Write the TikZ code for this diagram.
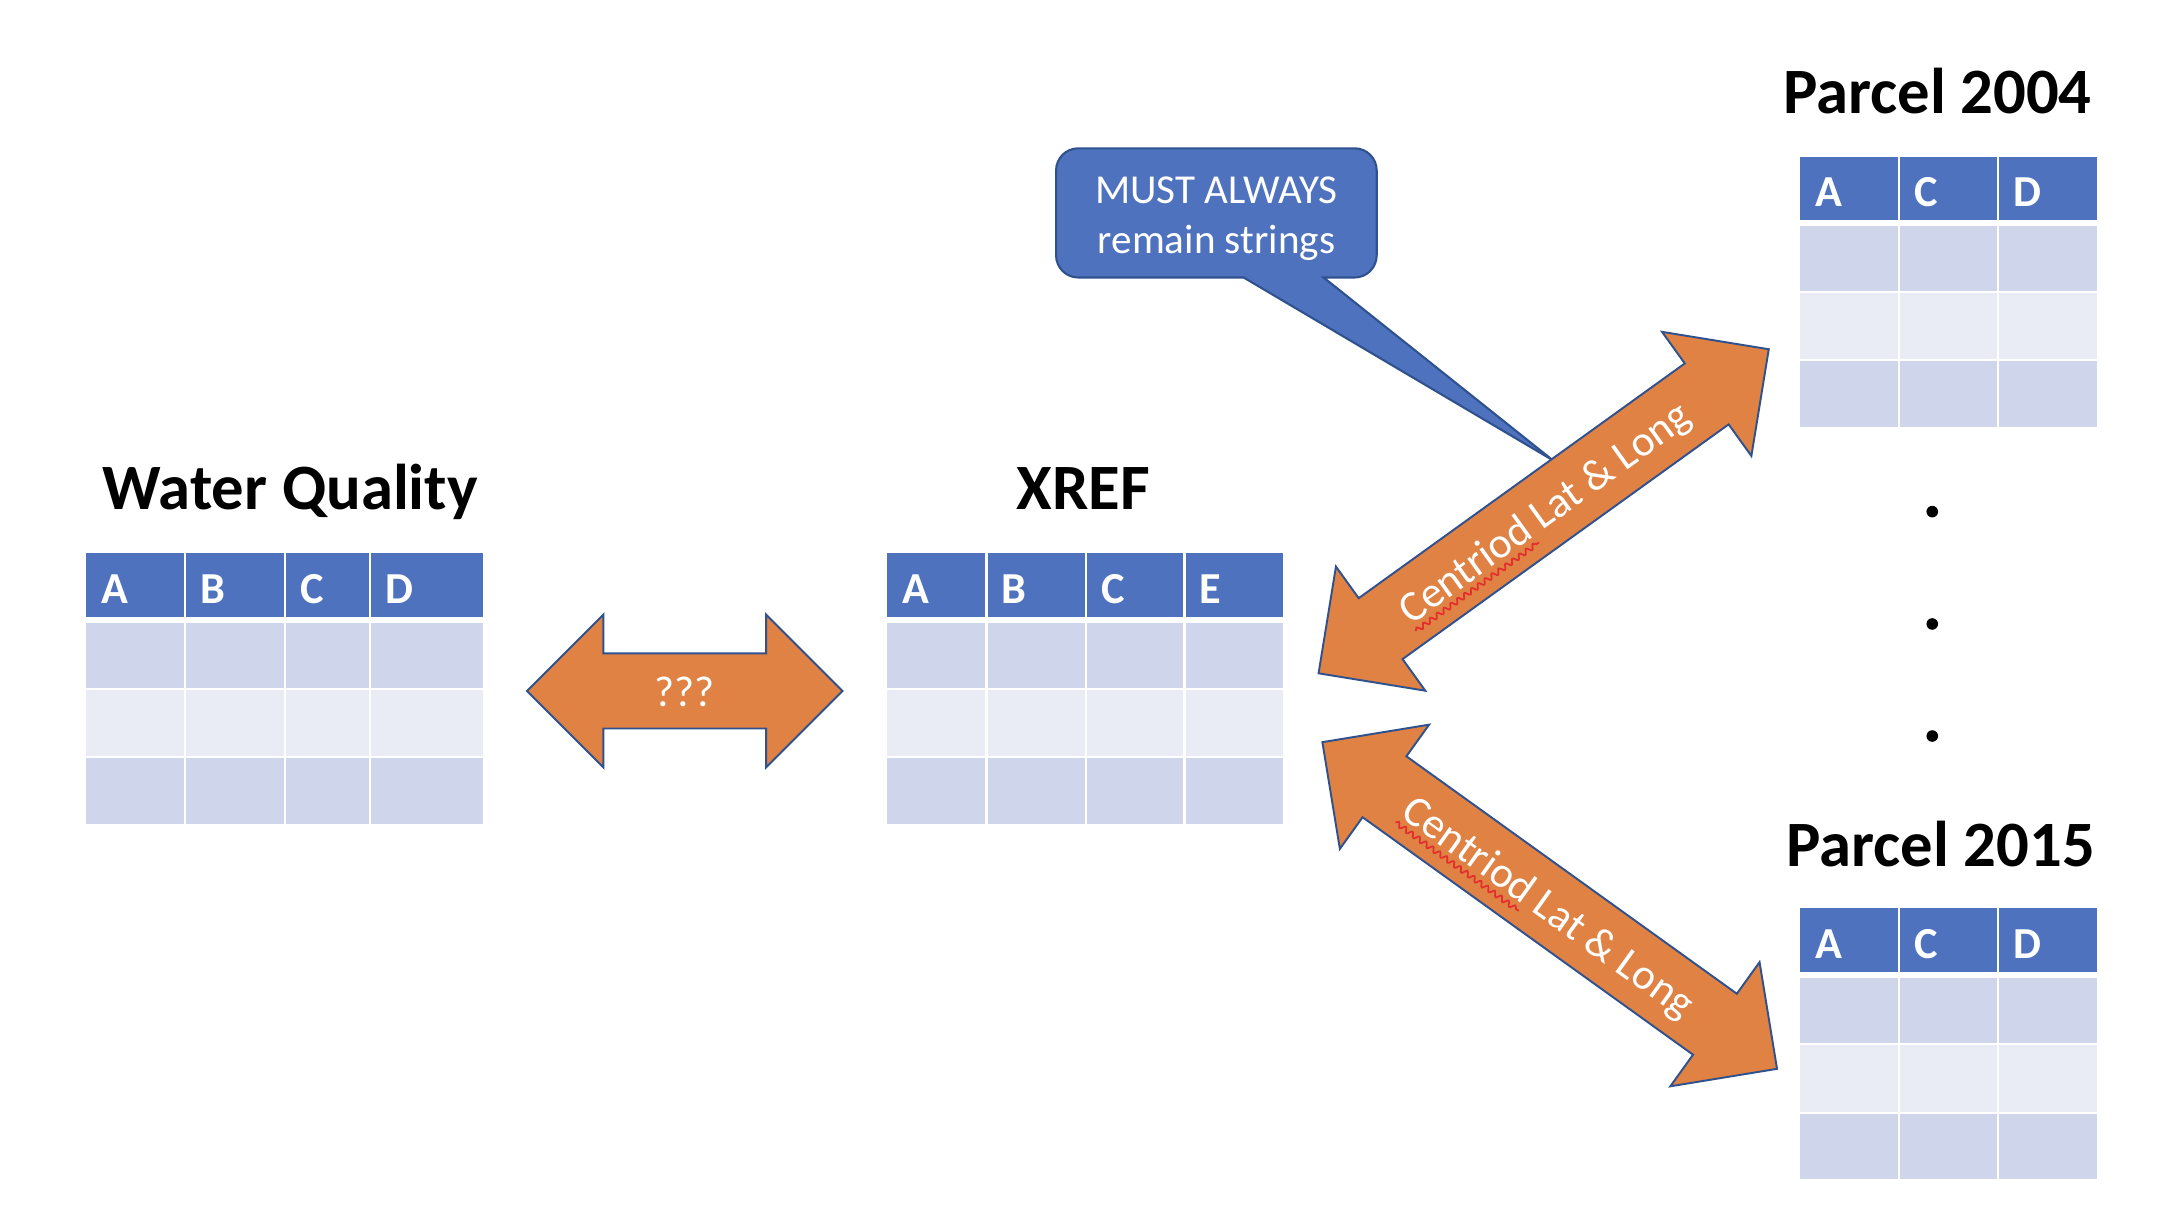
\documentclass[tikz,border=0pt]{standalone}
\usepackage{fontspec}
\setmainfont{Carlito}
\usetikzlibrary{decorations.pathmorphing}
\definecolor{hdrblue}{RGB}{79,114,190}
\definecolor{rowdark}{RGB}{207,213,234}
\definecolor{rowlight}{RGB}{233,235,245}
\definecolor{arrorange}{RGB}{223,130,68}
\definecolor{edgeblue}{RGB}{47,82,143}
\definecolor{squigred}{RGB}{228,45,45}
\newlength\ctxtW
\newlength\cwordW
\settowidth{\ctxtW}{\fontsize{12.3}{15}\selectfont Centriod Lat \& Long}
\settowidth{\cwordW}{\fontsize{12.3}{15}\selectfont Centriod}
\tikzset{
  tabletitle/.style={font=\fontsize{18.4}{22}\selectfont\bfseries, inner sep=0pt, anchor=base},
  hdrtext/.style={font=\fontsize{12.6}{15}\selectfont\bfseries, text=white, inner sep=0pt, anchor=west},
  arrowshape/.style={fill=arrorange, draw=edgeblue, line width=0.55pt, line join=miter},
  arrowtext/.style={font=\fontsize{12.3}{15}\selectfont, text=white, inner sep=0pt, anchor=base},
  calloutshape/.style={fill=hdrblue, draw=edgeblue, line width=0.6pt, line join=miter},
  callouttext/.style={font=\fontsize{11.7}{14.15}\selectfont, text=white, align=center, inner sep=0pt},
  squiggle/.style={draw=squigred, line width=0.5pt, decorate, decoration={snake, amplitude=0.7pt, segment length=2.4pt}},
  dotmark/.style={circle, fill=black, inner sep=0pt, minimum size=3.3pt},
  celldiv/.style={white, line width=0.65pt},
  rowdiv/.style={white, line width=0.55pt},
  hdrdiv/.style={white, line width=1.7pt},
}
% #1 prefix, #2 columns xa/xb/label, #3 left, #4 right, #5 top, #6 header divider, #7 row divider, #8 row divider, #9 bottom
\newcommand{\datatable}[9]{%
  \foreach \xa/\xb/\lbl [count=\ci] in {#2} {
    \fill[hdrblue] (\xa,#5) rectangle (\xb,#6);
    \fill[rowdark] (\xa,#6) rectangle (\xb,#7);
    \fill[rowlight] (\xa,#7) rectangle (\xb,#8);
    \fill[rowdark] (\xa,#8) rectangle (\xb,#9);
    \node[hdrtext] (#1-\lbl) at (\xa+10.5,{(#5+#6)/2+1.8}) {\lbl};
    \ifnum\ci>1 \draw[celldiv] (\xa,#5) -- (\xa,#9); \fi
  }
  \draw[hdrdiv] (#3,#6) -- (#4,#6);
  \draw[rowdiv] (#3,#7) -- (#4,#7);
  \draw[rowdiv] (#3,#8) -- (#4,#8);
}
% #1 cx, #2 cy, #3 angle, #4 length
\newcommand{\dblarrowshape}[4]{%
  \begin{scope}[shift={(#1,#2)}, rotate=#3]
    \pgfmathsetmacro{\halfL}{#4/2}
    \pgfmathsetmacro{\innerL}{#4/2-55}
    \draw[arrowshape] (-\halfL,0) -- (-\innerL,-55) -- (-\innerL,-27) -- (\innerL,-27) -- (\innerL,-55) -- (\halfL,0) -- (\innerL,55) -- (\innerL,27) -- (-\innerL,27) -- (-\innerL,55) -- cycle;
  \end{scope}}
\begin{document}
\begin{tikzpicture}[x=0.013903cm, y=-0.013903cm]
\useasboundingbox (0,0) rectangle (1568,882);
\fill[white] (0,0) rectangle (1568,882);

% titles
\node[tabletitle] (wqTitle) at (208.8,366.8) {Water Quality};
\node[tabletitle] (xrefTitle) at (779.2,366.8) {XREF};
\node[tabletitle] (p04Title) at (1393.6,81.5) {Parcel 2004};
\node[tabletitle] (p15Title) at (1396,622.9) {Parcel 2015};

% tables
\datatable{wq}{62/133/A,133/205/B,205/266/C,266/347.5/D}{62}{347.5}{398}{446.1}{495.5}{544.5}{592.5}
\datatable{xref}{638/709.5/A,709.5/781/B,781/852/C,852/923/E}{638}{923}{398}{446.1}{495.5}{544.5}{592.5}
\datatable{pa}{1294.5/1365.8/A,1365.8/1437/C,1437/1508.2/D}{1294.5}{1508.2}{112.7}{160.4}{209.9}{259}{307}
\datatable{pb}{1294.5/1365.8/A,1365.8/1437/C,1437/1508.2/D}{1294.5}{1508.2}{653}{701.2}{750.9}{800.5}{848}

% ellipsis dots
\node[dotmark] (dotA) at (1389.8,368) {};
\node[dotmark] (dotB) at (1389.8,448.8) {};
\node[dotmark] (dotC) at (1389.8,529.4) {};

% callout
\coordinate (ctip) at (1116.8,331);
\draw[calloutshape] (952,199.6) [rounded corners=6.3pt] -- (990.2,199.6) -- (990.2,106.7) -- (759.6,106.7) -- (759.6,199.6) [sharp corners] -- (894.5,199.6) -- (ctip) -- cycle;
\node[callouttext] (calltxt) at (875,157.5) {MUST ALWAYS\\remain strings};

% arrows
\dblarrowshape{492.5}{497}{0}{227}
\node[arrowtext] (qTxt) at (492.5,507.9) {???};

\dblarrowshape{1110.3}{367.75}{35.75}{399}
\begin{scope}[shift={(1110.3,367.75)}, rotate=35.75]
  \node[arrowtext, transform shape] (upTxt) at (0pt,-4.3pt) {Centriod Lat \& Long};
  \draw[squiggle] (-0.5\ctxtW,-6.4pt) -- ({-0.5\ctxtW+\cwordW},-6.4pt);
\end{scope}

\dblarrowshape{1114.65}{651.3}{-35.7}{402.7}
\begin{scope}[shift={(1114.65,651.3)}, rotate=-35.7]
  \node[arrowtext, transform shape] (downTxt) at (0pt,-4.3pt) {Centriod Lat \& Long};
  \draw[squiggle] (-0.5\ctxtW,-6.4pt) -- ({-0.5\ctxtW+\cwordW},-6.4pt);
\end{scope}
\end{tikzpicture}
\end{document}
